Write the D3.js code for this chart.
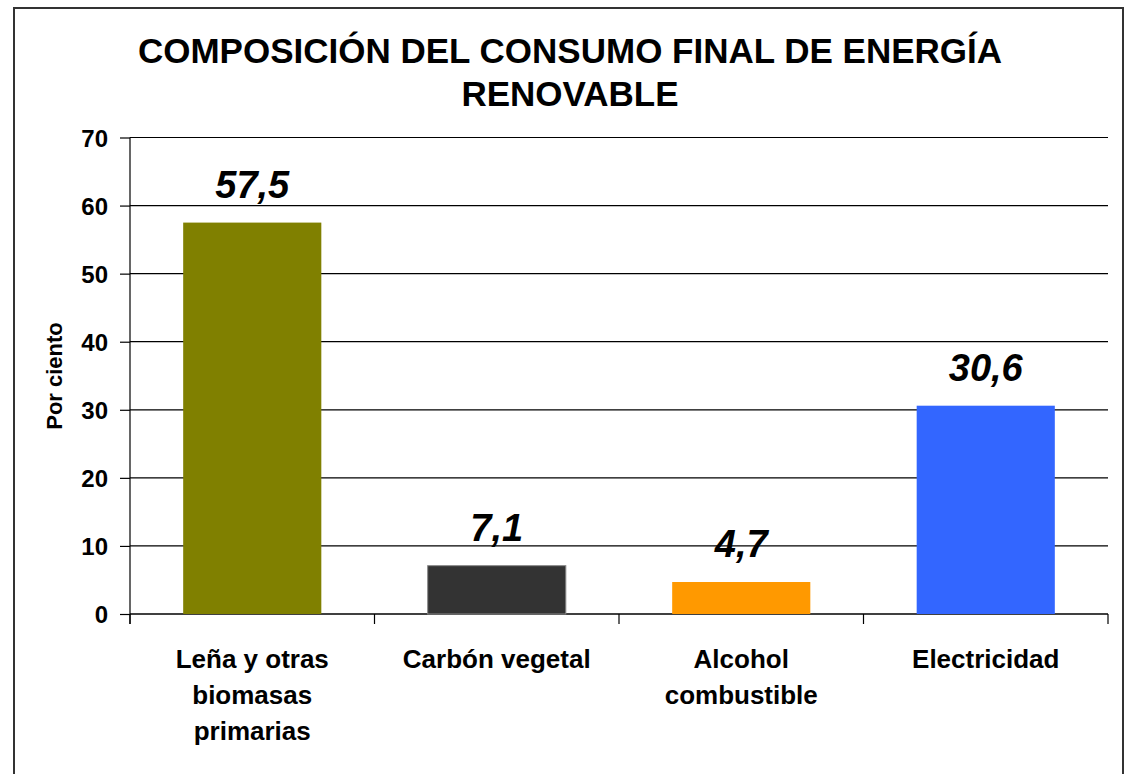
<!DOCTYPE html>
<meta charset="utf-8">
<style>
    body { margin: 0; background: #fff; }
    svg { display: block; }
    text { font-family: "Liberation Sans", Arial, sans-serif; fill: #000; }
    .title { font-size: 35px; font-weight: bold; }
    .tick text { font-size: 24px; font-weight: bold; }
    .cat { font-size: 26px; font-weight: bold; }
    .val { font-size: 38px; font-weight: bold; font-style: italic; }
    .ylab { font-size: 22px; font-weight: bold; }
</style>
<svg width="1128" height="774"></svg>
<script src="https://d3js.org/d3.v7.min.js"></script>
<script>
    // data
    var categories = ["Leña y otras biomasas primarias", "Carbón vegetal", "Alcohol combustible", "Electricidad"];
    var catLines = [["Leña y otras", "biomasas", "primarias"], ["Carbón vegetal"], ["Alcohol", "combustible"], ["Electricidad"]];
    var values = [57.5, 7.1, 4.7, 30.6];
    var valueLabels = ["57,5", "7,1", "4,7", "30,6"];
    var colors = ["#808000", "#333333", "#ff9900", "#3366ff"];
    var yTicks = [0, 10, 20, 30, 40, 50, 60, 70];
    var titleLines = ["COMPOSICIÓN DEL CONSUMO FINAL DE ENERGÍA", "RENOVABLE"];

    var svg = d3.select("svg");

    var plotLeft = 130, plotRight = 1108, plotTop = 137.5, plotBottom = 614;

    // chart frame
    svg.append("rect")
        .attr("x", 14).attr("y", 8)
        .attr("width", 1109).attr("height", 800)
        .attr("fill", "none")
        .attr("stroke", "#333")
        .attr("stroke-width", 2);

    // title
    svg.selectAll(".title")
        .data(titleLines).enter()
        .append("text")
        .attr("class", "title")
        .attr("x", 570)
        .attr("y", function (d, i) { return 63 + i * 43; })
        .attr("text-anchor", "middle")
        .text(function (d) { return d; });

    var x = d3.scaleBand().domain(categories).range([plotLeft, plotRight]).padding(0);
    var y = d3.scaleLinear().domain([0, 70]).range([plotBottom, plotTop]);

    // gridlines
    svg.append("g")
        .selectAll("line")
        .data(yTicks.filter(function (d) { return d > 0; }))
        .enter().append("line")
        .attr("x1", plotLeft).attr("x2", plotRight)
        .attr("y1", function (d) { return y(d); })
        .attr("y2", function (d) { return y(d); })
        .attr("stroke", "#000")
        .attr("stroke-width", 1.2);

    // y axis
    var yAxis = svg.append("g")
        .attr("transform", "translate(" + plotLeft + ",0)")
        .call(d3.axisLeft(y).tickValues(yTicks).tickSize(10).tickPadding(12).tickFormat(d3.format("d")));
    yAxis.select(".domain").remove();
    yAxis.selectAll(".tick line").attr("stroke", "#000").attr("stroke-width", 1.2);
    yAxis.selectAll(".tick text").attr("dy", "0.36em");
    yAxis.attr("font-family", null).attr("font-size", null);

    svg.append("line")
        .attr("x1", plotLeft).attr("x2", plotLeft)
        .attr("y1", plotTop).attr("y2", plotBottom + 10)
        .attr("stroke", "#000").attr("stroke-width", 1.2);

    // x axis line + ticks at category boundaries
    svg.append("line")
        .attr("x1", plotLeft).attr("x2", plotRight)
        .attr("y1", plotBottom).attr("y2", plotBottom)
        .attr("stroke", "#000").attr("stroke-width", 1.5);
    var bounds = categories.map(function (c) { return x(c); }).concat([plotRight]);
    svg.append("g").selectAll("line")
        .data(bounds).enter().append("line")
        .attr("x1", function (d) { return d; })
        .attr("x2", function (d) { return d; })
        .attr("y1", plotBottom).attr("y2", plotBottom + 10)
        .attr("stroke", "#000").attr("stroke-width", 1.2);

    // bars
    var barW = x.bandwidth() * 0.565;
    svg.append("g").selectAll("rect")
        .data(values).enter().append("rect")
        .attr("x", function (d, i) { return x(categories[i]) + (x.bandwidth() - barW) / 2; })
        .attr("y", function (d) { return y(d); })
        .attr("width", barW)
        .attr("height", function (d) { return y(0) - y(d); })
        .attr("fill", function (d, i) { return colors[i]; })
        .attr("stroke", function (d, i) { return i === 1 ? "#888" : "none"; })
        .attr("stroke-width", 1);

    // value labels
    svg.append("g").selectAll("text")
        .data(values).enter().append("text")
        .attr("class", "val")
        .attr("x", function (d, i) { return x(categories[i]) + x.bandwidth() / 2; })
        .attr("y", function (d) { return y(d) - 25; })
        .attr("text-anchor", "middle")
        .text(function (d, i) { return valueLabels[i]; });

    // category labels
    catLines.forEach(function (lines, i) {
        svg.append("text")
            .attr("class", "cat")
            .attr("text-anchor", "middle")
            .selectAll("tspan")
            .data(lines).enter().append("tspan")
            .attr("x", x(categories[i]) + x.bandwidth() / 2)
            .attr("y", function (d, j) { return 668 + j * 36; })
            .text(function (d) { return d; });
    });

    // y label
    svg.append("text")
        .attr("class", "ylab")
        .attr("transform", "translate(62,376) rotate(-90)")
        .attr("text-anchor", "middle")
        .text("Por ciento");
</script>
